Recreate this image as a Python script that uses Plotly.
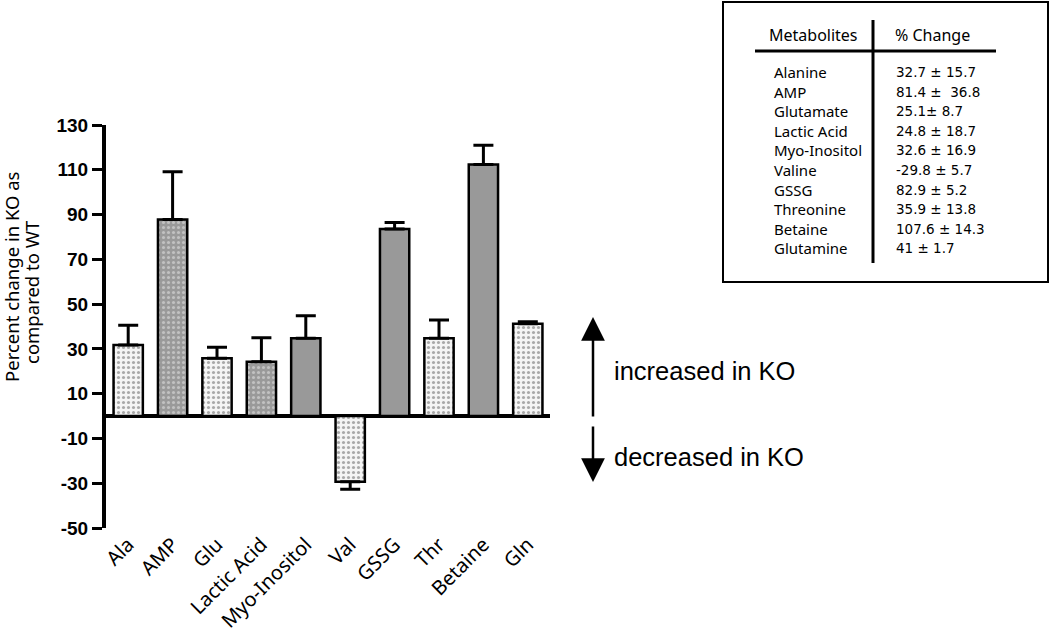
import plotly.graph_objects as go

# bar chart values
categories = ["Ala", "AMP", "Glu", "Lactic Acid", "Myo-Inositol", "Val", "GSSG", "Thr", "Betaine", "Gln"]
values = [31.7, 87.8, 25.8, 24.2, 34.7, -29.3, 83.5, 34.8, 112.4, 41.2]
errors = [8.9, 21.3, 4.9, 10.8, 10.1, 3.4, 3.0, 8.1, 8.6, 0.9]
shade = ["light", "mid", "light", "mid", "dark", "light", "dark", "light", "dark", "light"]
y_ticks = [-50, -30, -10, 10, 30, 50, 70, 90, 110, 130]
y_tick_labels = ["-50", "-30", "-10", "10", "30", "50", "70", "90", "110", "130"]

# inset table
table_names = ["Alanine", "AMP", "Glutamate", "Lactic Acid", "Myo-Inositol",
               "Valine", "GSSG", "Threonine", "Betaine", "Glutamine"]
table_values = ["32.7 ± 15.7", "81.4 ±  36.8", "25.1± 8.7", "24.8 ± 18.7", "32.6 ± 16.9",
                "-29.8 ± 5.7", "82.9 ± 5.2", "35.9 ± 13.8", "107.6 ± 14.3", "41 ± 1.7"]

W, H = 1050, 635


def px(x):
    return x / W


def py(y):
    return 1 - y / H


STYLE = {
    "light": dict(bg="#f5f5f5", fg="#a9a9a9", shape="."),
    "mid": dict(bg="#9a9a9a", fg="#c2c2c2", shape="."),
    "dark": dict(bg="#999999", fg="#999999", shape=""),
}

fig = go.Figure()
for key, st in STYLE.items():
    idx = [i for i, s in enumerate(shade) if s == key]
    xs = [categories[i] for i in idx]
    ys = [values[i] for i in idx]
    es = [errors[i] for i in idx]
    fig.add_trace(
        go.Bar(
            x=xs,
            y=ys,
            width=0.66,
            marker=dict(
                color=st["bg"],
                line=dict(color="black", width=2.5),
                pattern=dict(shape=st["shape"], fgcolor=st["fg"], bgcolor=st["bg"],
                             size=5, solidity=0.3),
            ),
            error_y=dict(
                type="data",
                symmetric=False,
                array=[e if v > 0 else 0 for v, e in zip(ys, es)],
                arrayminus=[e if v < 0 else 0 for v, e in zip(ys, es)],
                color="black",
                thickness=3,
                width=10,
            ),
            showlegend=False,
        )
    )

fig.update_layout(
    template="none",
    barmode="overlay",
    width=W,
    height=H,
    margin=dict(l=0, r=0, t=0, b=0, autoexpand=False),
    paper_bgcolor="white",
    plot_bgcolor="white",
    font=dict(family="Noto Sans", color="black"),
)
fig.update_xaxes(
    automargin=False,
    categoryorder="array",
    categoryarray=categories,
    domain=[px(106), px(550)],
    range=[-0.5, 9.5],
    showline=False,
    showgrid=False,
    zeroline=False,
    ticks="",
    tickangle=-45,
    tickfont=dict(family="Noto Sans", size=20, color="black"),
)
fig.update_yaxes(
    automargin=False,
    domain=[py(528), py(125)],
    range=[-50, 130],
    tickvals=y_ticks,
    ticktext=y_tick_labels,
    showgrid=False,
    showline=True,
    linewidth=4,
    linecolor="black",
    ticks="outside",
    ticklen=10,
    tickwidth=3,
    tickcolor="black",
    tickfont=dict(family="Liberation Sans", size=19, color="black", weight="bold"),
    zeroline=True,
    zerolinewidth=4,
    zerolinecolor="black",
)


def note(x, y, text, size, family="Noto Sans", xanchor="center", angle=0):
    fig.add_annotation(
        x=px(x), y=py(y), xref="paper", yref="paper",
        xanchor=xanchor, yanchor="middle", text=text, textangle=angle,
        showarrow=False, font=dict(family=family, size=size, color="black"),
    )


# y axis title (two lines, tight spacing)
note(11, 277, "Percent change in KO as", 18.5, angle=-90)
note(32, 292, "compared to WT", 18.5, angle=-90)

# arrows with text
fig.add_annotation(
    x=px(593), y=py(317), xref="paper", yref="paper",
    ax=0, ay=101, text="", showarrow=True,
    arrowhead=2, arrowsize=1.9, arrowwidth=2.5, arrowcolor="black",
)
fig.add_annotation(
    x=px(593), y=py(482), xref="paper", yref="paper",
    ax=0, ay=-57, text="", showarrow=True,
    arrowhead=2, arrowsize=1.9, arrowwidth=2.5, arrowcolor="black",
)
note(612, 371, "increased in KO", 25.5, family="Liberation Sans", xanchor="left")
note(612, 457, "decreased in KO", 25.5, family="Liberation Sans", xanchor="left")

# table box
fig.add_shape(type="rect", xref="paper", yref="paper",
              x0=px(723), x1=px(1048), y0=py(282), y1=py(2),
              line=dict(color="black", width=2))
fig.add_shape(type="line", xref="paper", yref="paper",
              x0=px(755), x1=px(996), y0=py(51), y1=py(51),
              line=dict(color="black", width=3))
fig.add_shape(type="line", xref="paper", yref="paper",
              x0=px(873), x1=px(873), y0=py(20), y1=py(263),
              line=dict(color="black", width=3))
note(813, 35, "Metabolites", 16)
note(932, 35, "% Change", 16)
for i, (name, val) in enumerate(zip(table_names, table_values)):
    yy = 72 + i * 19.6
    note(772, yy, name, 15, xanchor="left")
    note(894, yy, val, 13.5, family="DejaVu Sans", xanchor="left")

# drop the default page margin so the figure sits at the window's corner
fig.write_html(
    "out.html",
    config={"displayModeBar": False},
    post_script="document.body.style.margin='0';",
)
